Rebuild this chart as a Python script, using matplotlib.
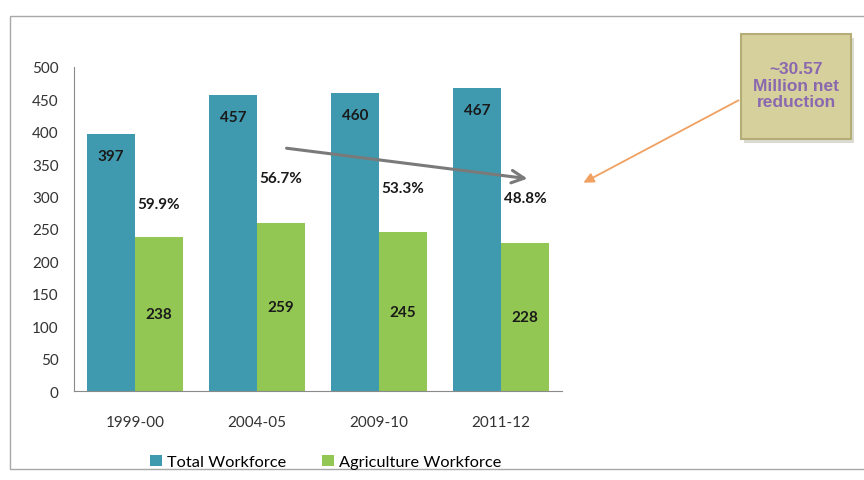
import numpy as np
from matplotlib import pyplot as plt
from matplotlib.patches import Rectangle, FancyArrowPatch

plt.rcParams['font.family'] = ['Lato', 'DejaVu Sans']

# data (million workers)
years = ['1999-00', '2004-05', '2009-10', '2011-12']
total = [397, 457, 460, 467]
agri = [238, 259, 245, 228]
# height at which the agriculture share labels sit
pct_y = [289, 329, 313, 298]

blue = '#3f9ab0'
green = '#93c753'

fig = plt.figure(figsize=(8.64, 4.81), dpi=100)
ax = fig.add_axes([0.0856, 0.185, 0.5648, 0.674])

x = np.arange(len(years))
w = 0.393
b1 = ax.bar(x - w/2, total, w, color=blue, label='Total Workforce')
b2 = ax.bar(x + w/2, agri, w, color=green, label='Agriculture Workforce')

ax.bar_label(b1, padding=-21, fontsize=11, fontweight='bold', color='#1a1a1a')
ax.bar_label(b2, label_type='center', fontsize=11, fontweight='bold', color='#1a1a1a')

# share of agriculture in total
for i in range(len(years)):
    share = 100.0 * agri[i] / total[i]
    ax.text(x[i] + w/2, pct_y[i], '%.1f%%' % share, ha='center', va='center',
            fontsize=11, fontweight='bold', color='#1a1a1a')

ax.annotate('', xy=(3.24, 327), xytext=(1.22, 375),
            arrowprops=dict(arrowstyle='->,head_length=0.9,head_width=0.45',
                            color='#7a7a7a', lw=2.2))

ax.set_xlim(-0.5, 3.5)
ax.set_ylim(0, 500)
ax.set_yticks(range(0, 501, 50))
ax.set_xticks(x)
ax.set_xticklabels(years)
ax.tick_params(length=0, labelsize=11, colors='#333333')
ax.tick_params(axis='x', pad=17)
ax.tick_params(axis='y', pad=11)
for s in ['top', 'right']:
    ax.spines[s].set_visible(False)
for s in ['left', 'bottom']:
    ax.spines[s].set_color('#8a8a8a')

fig.legend(handles=[b1, b2], loc='center', bbox_to_anchor=(0.377, 0.037),
           ncol=2, frameon=False, fontsize=11.8, handlelength=0.7,
           handleheight=0.7, handletextpad=0.3, columnspacing=2.2)

# outer frame
fig.patches.append(Rectangle((0.0116, 0.0229), 1.0, 0.942, transform=fig.transFigure,
                             fill=False, edgecolor='#a8a8a8', lw=1.0))

# callout box
bx, by, bw, bh = 741/864, 1 - 140/481, 110/864, 105/481
fig.patches.append(Rectangle((bx + 0.004, by - 0.008), bw, bh, transform=fig.transFigure,
                             facecolor='#c4c4b4', edgecolor='none', alpha=0.6))
fig.patches.append(Rectangle((bx, by), bw, bh, transform=fig.transFigure,
                             facecolor='#d6d09c', edgecolor='#b5ad78', lw=1.5))
fig.text(bx + bw/2, by + bh/2 + 0.003, '~30.57\nMillion net\nreduction', ha='center',
         va='center', fontsize=12.5, fontweight='bold', color='#8a68b0',
         linespacing=1.15, family=['Liberation Sans', 'DejaVu Sans'])

fig.add_artist(FancyArrowPatch(
    (741/864, 1 - 100/481), (581/864, 1 - 185/481), transform=fig.transFigure,
    arrowstyle='-|>,head_length=6,head_width=3', color='#f0a060', lw=1.3))

fig.savefig('out.png', dpi=100)
